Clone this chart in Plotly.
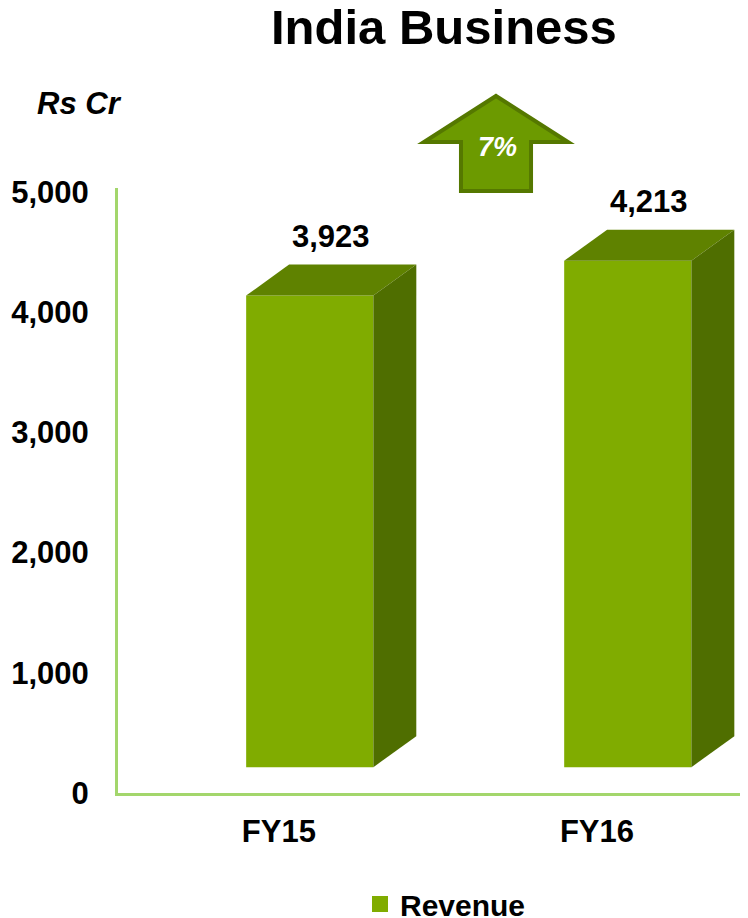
import plotly.graph_objects as go

# ---- data ----
categories = ["FY15", "FY16"]
revenue = [3923, 4213]
value_labels = ["3,923", "4,213"]
growth_label = "7%"
y_tickvals = [0, 1000, 2000, 3000, 4000, 5000]
y_ticktext = ["0", "1,000", "2,000", "3,000", "4,000", "5,000"]

# ---- style / geometry ----
FONT = "Liberation Sans, Arial, sans-serif"
OFF = 8                      # page body margin
W, H = 748 - OFF, 918 - OFF
ML, MR, MT, MB = 118 - OFF, 0, 188 - OFF, 918 - 793
YMAX = 5033
XMIN, XMAX = -0.506, 1.475
FLOOR = 215          # 3D floor lift (value units)
BAR_OFFSET = -0.103
BAR_WIDTH = 0.40
DEPTH_X = 0.135
DEPTH_Y = 258
C_FRONT = "#80AC00"
C_TOP = "#5F8200"
C_SIDE = "#4F6E00"
AXIS_C = "#A3D66C"

xs = list(range(len(categories)))
fig = go.Figure()

# front faces
fig.add_trace(go.Bar(
    x=xs, y=revenue, base=[FLOOR] * len(xs), offset=BAR_OFFSET, width=BAR_WIDTH,
    marker=dict(color=C_FRONT, line=dict(width=0)), showlegend=False, name="Revenue"))

# top and side faces
for i, v in zip(xs, revenue):
    x0 = i + BAR_OFFSET
    x1 = x0 + BAR_WIDTH
    top = FLOOR + v
    fig.add_trace(go.Scatter(
        x=[x0, x1, x1 + DEPTH_X, x0 + DEPTH_X, x0],
        y=[top, top, top + DEPTH_Y, top + DEPTH_Y, top],
        fill="toself", fillcolor=C_TOP, mode="none", showlegend=False, hoverinfo="skip"))
    fig.add_trace(go.Scatter(
        x=[x1, x1 + DEPTH_X, x1 + DEPTH_X, x1, x1],
        y=[FLOOR, FLOOR + DEPTH_Y, top + DEPTH_Y, top, FLOOR],
        fill="toself", fillcolor=C_SIDE, mode="none", showlegend=False, hoverinfo="skip"))
    fig.add_annotation(
        x=x0 + BAR_WIDTH / 2 + DEPTH_X / 2, y=top + DEPTH_Y, text=value_labels[i],
        showarrow=False, xanchor="center", yanchor="bottom", yshift=9,
        font=dict(family=FONT, size=31, color="black", weight="bold"))

# legend entry
fig.add_trace(go.Scatter(
    x=[None], y=[None], mode="markers", name="Revenue",
    marker=dict(symbol="square", size=16, color=C_FRONT)))

# helpers: reference-picture pixels -> paper coords
def px(xp):
    return (xp - OFF - ML) / (W - ML - MR)

def py(yp):
    return (H - MB - (yp - OFF)) / (H - MT - MB)

# growth arrow (outline inset by half the stroke width)
pts = [(496, 96), (568, 142), (531, 142), (531, 191), (461, 191), (461, 142), (424, 142)]
path = "M " + " L ".join(f"{px(a):.4f},{py(b):.4f}" for a, b in pts) + " Z"
fig.add_shape(type="path", path=path, xref="paper", yref="paper",
              fillcolor="#6C9A00", line=dict(color="#557800", width=4), layer="above")
fig.add_annotation(x=px(497), y=py(147), xref="paper", yref="paper", text=f"<i>{growth_label}</i>",
                   showarrow=False, xanchor="center", yanchor="middle",
                   font=dict(family=FONT, size=27, color="white", weight="bold"))

# title and unit
fig.add_annotation(x=px(444), y=py(27), xref="paper", yref="paper", text="India Business",
                   showarrow=False, xanchor="center", yanchor="middle",
                   font=dict(family=FONT, size=49, color="black", weight="bold"))
fig.add_annotation(x=px(79), y=py(103), xref="paper", yref="paper", text="<i>Rs Cr</i>",
                   showarrow=False, xanchor="center", yanchor="middle",
                   font=dict(family=FONT, size=31, color="black", weight="bold"))

fig.update_layout(
    width=W, height=H, margin=dict(l=ML, r=MR, t=MT, b=MB, pad=0, autoexpand=False),
    paper_bgcolor="white", plot_bgcolor="white",
    font=dict(family=FONT, color="black"),
    showlegend=True,
    legend=dict(orientation="h", x=px(360), y=py(904), xanchor="left", yanchor="middle",
                font=dict(family=FONT, size=30, color="black", weight="bold"),
                bgcolor="rgba(0,0,0,0)"),
    xaxis=dict(range=[XMIN, XMAX], tickvals=xs, ticktext=categories, showgrid=False,
               zeroline=False, showline=True, linecolor=AXIS_C, linewidth=3,
               ticks="", ticklabelstandoff=9, automargin=False,
               tickfont=dict(family=FONT, size=31, color="black", weight="bold")),
    yaxis=dict(range=[0, YMAX], tickvals=y_tickvals, ticktext=y_ticktext, showgrid=False,
               zeroline=False, showline=True, linecolor=AXIS_C, linewidth=3,
               ticks="", ticklabelstandoff=20, automargin=False,
               tickfont=dict(family=FONT, size=31, color="black", weight="bold")),
)

fig.write_html("out.html")
